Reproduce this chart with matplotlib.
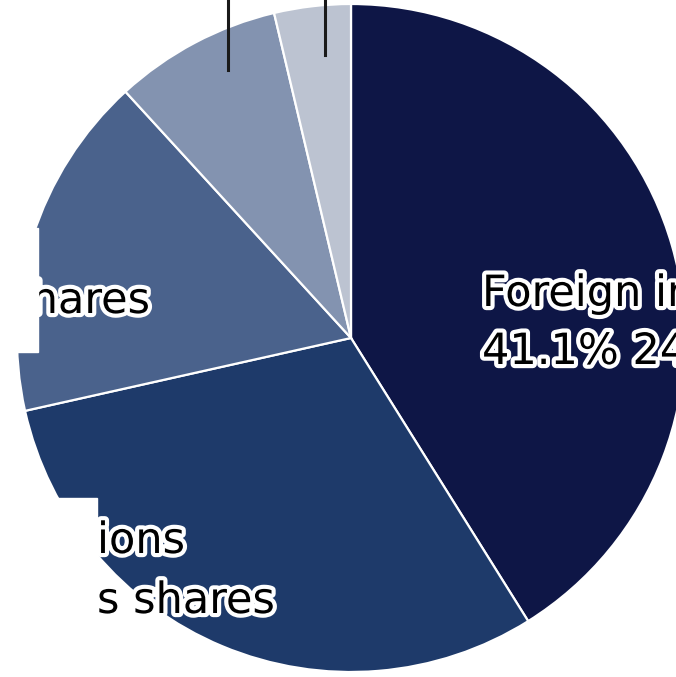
import matplotlib.pyplot as plt
import matplotlib.patheffects as pe
from matplotlib.patches import Rectangle

# shareholder composition (%), clockwise from 12 o'clock
shares = [41.1, 30.4, 16.7, 8.1, 3.7]
colors = ['#0e1646', '#1e3a6a', '#4a628c', '#8393b0', '#bcc3d1']

# visible parts of the labels (the rest is cut off in the picture)
label_foreign = ['Foreign in', '41.1% 24']
label_left = 'shares'
label_bottom = ['ions', 's shares']

W, H = 676, 677
fig = plt.figure(figsize=(W / 100, H / 100), dpi=100)
ax = fig.add_axes([0, 0, 1, 1])

def py(y):
    # pixel row (from top) -> data y
    return H - y

ax.pie(shares, colors=colors, startangle=90, counterclock=False,
       center=(351, py(338)), radius=334,
       wedgeprops=dict(edgecolor='white', linewidth=1.6))
ax.set_xlim(0, W)
ax.set_ylim(0, H)
ax.set_aspect('auto')
ax.axis('off')

outline = [pe.withStroke(linewidth=6, foreground='white')]
txt = dict(fontsize=31, color='black', path_effects=outline, zorder=5,
           family='DejaVu Sans')

ax.text(482, py(306), label_foreign[0], ha='left', va='baseline', **txt)
ax.text(482, py(364), label_foreign[1], ha='left', va='baseline', **txt)
ax.text(150, py(313), label_left, ha='right', va='baseline', **txt)
ax.text(97, py(553), label_bottom[0], ha='left', va='baseline', **txt)
ax.text(97, py(613), label_bottom[1], ha='left', va='baseline', **txt)

# leader lines for the two small slices
ax.plot([228, 228], [py(0), py(70)], color='#1a1a1a', lw=2.2, zorder=6)
ax.plot([325, 325], [py(0), py(55)], color='#1a1a1a', lw=2.2, zorder=6)

# white cut-outs on the left edge
ax.add_patch(Rectangle((0, py(352)), 38, 124, color='white', zorder=10))
ax.add_patch(Rectangle((0, py(640)), 97, 142, color='white', zorder=10))

fig.savefig('out.png', dpi=100, facecolor='white')
